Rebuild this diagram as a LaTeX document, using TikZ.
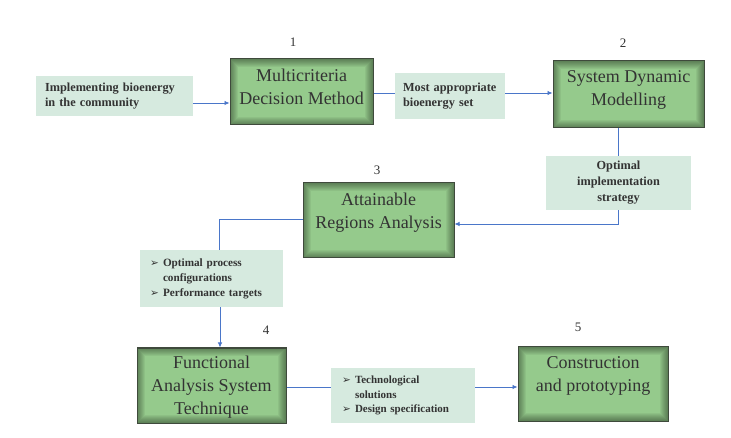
\documentclass[tikz,border=0pt]{standalone}
\usepackage{fontspec}
\setmainfont{Liberation Serif}
\newfontfamily\symfont{DejaVu Sans}
\usetikzlibrary{arrows.meta}
\definecolor{gfill}{HTML}{95CA8C}
\definecolor{gdark}{HTML}{3F4A3C}
\definecolor{lfill}{HTML}{D6EADF}
\definecolor{ablue}{HTML}{4A76C9}
\definecolor{tgray}{HTML}{333333}
\newcommand{\mybul}{\makebox[13pt][l]{\symfont\fontsize{10.5}{10}\selectfont ➢}}
\begin{document}
\begin{tikzpicture}[x=1pt,y=-1pt,
 gbox/.style={draw=gdark, line width=1pt, fill=gfill, inner sep=0pt,
   path picture={
     \foreach \w in {16,14,12,10,8,6,4,2}{
     \draw[black, opacity=0.05, line width=\w pt] (path picture bounding box.south west) rectangle (path picture bounding box.north east);}}},
 gtext/.style={anchor=north, align=center, font=\fontsize{18}{23}\selectfont, text=tgray, inner sep=0pt},
 lbox/.style={fill=lfill, inner ysep=0pt, align=left, text=tgray},
 ltext/.style={font=\bfseries\fontsize{12.3}{15.5}\selectfont},
 num/.style={font=\fontsize{13}{15}\selectfont, text=tgray},
 conn/.style={draw=ablue, line width=0.8pt},
 arr/.style={conn, -{Latex[length=5pt,width=4.5pt]}},
]
\useasboundingbox (0,0) rectangle (731,438);
\fill[white] (0,0) rectangle (731,438);

% green boxes
\node[gbox, minimum width=143pt, minimum height=66pt] (b1) at (301.5,92) {};
\node[gtext] (t1) at ([yshift=-10pt]b1.north) {Multicriteria\\Decision Method};
\node[gbox, minimum width=151pt, minimum height=67pt] (b2) at (628.5,94.5) {};
\node[gtext] (t2) at ([yshift=-10pt]b2.north) {System Dynamic\\Modelling};
\node[gbox, minimum width=151pt, minimum height=75pt] (b3) at (378.5,220.5) {};
\node[gtext] (t3) at ([yshift=-10pt]b3.north) {Attainable\\Regions Analysis};
\node[gbox, minimum width=149pt, minimum height=75pt] (b4) at (211.5,385.5) {};
\node[gtext] (t4) at ([yshift=-8pt]b4.north) {Functional\\Analysis System\\Technique};
\node[gbox, minimum width=150pt, minimum height=74pt] (b5) at (593,384) {};
\node[gtext] (t5) at ([yshift=-10pt]b5.north) {Construction\\and prototyping};

% numbers
\node[num] (n1) at (293,42) {1};
\node[num] (n2) at (623,43) {2};
\node[num] (n3) at (377,170) {3};
\node[num] (n4) at (266,330) {4};
\node[num] (n5) at (578,327) {5};

% light boxes
\node[lbox, ltext, inner xsep=9pt, text width=139pt, minimum height=40pt] (inp) at (114.5,96)
  {Implementing bioenergy\\in the community};
\node[lbox, ltext, inner xsep=8pt, text width=94pt, minimum height=46pt] (most) at (450,96)
  {Most appropriate\\bioenergy set};
\node[lbox, align=center, font=\bfseries\fontsize{12.3}{16}\selectfont, inner xsep=4pt, text width=137pt, minimum height=54pt] (opt) at (618.5,183)
  {Optimal\\implementation\\strategy};
\node[lbox, font=\bfseries\fontsize{11.2}{15}\selectfont, inner xsep=10pt, text width=123pt, minimum height=57pt] (pt) at (211.5,278.5)
  {\mybul Optimal process\\\hspace*{13pt}configurations\\\mybul Performance targets};
\node[lbox, font=\bfseries\fontsize{11}{14.3}\selectfont, inner xsep=11pt, text width=122pt, minimum height=55pt] (tech) at (403,395.5)
  {\mybul Technological\\\hspace*{13pt}solutions\\\mybul Design specification};

% connectors
\draw[arr] (inp.east |- 0,103) -- (b1.west |- 0,103);
\draw[conn] (b1.east |- 0,93) -- (most.west |- 0,93);
\draw[arr] (most.east |- 0,93) -- (b2.west |- 0,93);
\draw[conn] (b2.south -| 618,0) -- (opt.north -| 618,0);
\draw[arr] (opt.south -| 618,0) |- (b3.east |- 0,224);
\draw[conn] (b3.west |- 0,219) -| (pt.north -| 219,0);
\draw[arr] (pt.south -| 220,0) -- (b4.north -| 220,0);
\draw[conn] (b4.east |- 0,387) -- (tech.west |- 0,387);
\draw[arr] (tech.east |- 0,387) -- (b5.west |- 0,387);
\end{tikzpicture}
\end{document}
